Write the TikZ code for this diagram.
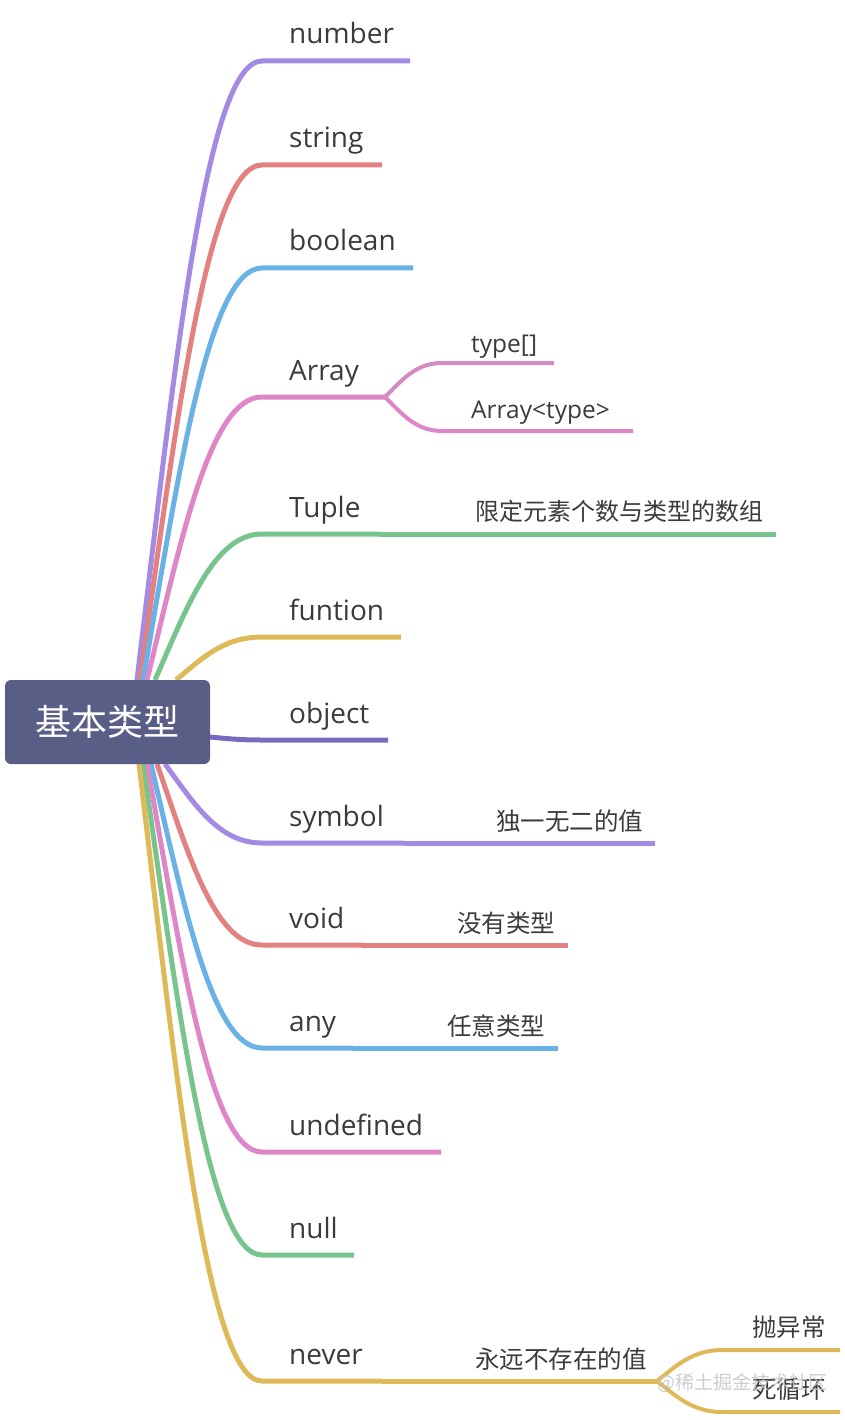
\documentclass[tikz,border=0pt]{standalone}
\usepackage{fontspec}
\setmainfont{Open Sans}
\newfontfamily\cjk{Noto Sans CJK SC}
\usetikzlibrary{calc}
\definecolor{cPurple}{HTML}{A38BE3}
\definecolor{cRed}{HTML}{E38181}
\definecolor{cBlue}{HTML}{6AB2E6}
\definecolor{cPink}{HTML}{DF86C9}
\definecolor{cPinkB}{HTML}{D48CC0}
\definecolor{cGreen}{HTML}{78C48C}
\definecolor{cGold}{HTML}{DFB857}
\definecolor{cObj}{HTML}{7B68BF}
\definecolor{rootc}{HTML}{595E87}
\definecolor{textc}{HTML}{3B3B3B}
\definecolor{wmc}{HTML}{C4C4C4}
\begin{document}
\begin{tikzpicture}[x=1pt,y=-1pt,
  branch/.style={line width=5pt},
  subbranch/.style={line width=4pt},
  lab/.style={anchor=base west, inner sep=0pt, text=textc, font=\fontsize{28}{31}\selectfont},
  smalllab/.style={anchor=base west, inner sep=0pt, text=textc, font=\fontsize{24.5}{27}\selectfont},
  sublab/.style={anchor=base west, inner sep=0pt, text=textc, font=\cjk\fontsize{24.5}{28}\selectfont},
  tuplelab/.style={anchor=base west, inner sep=0pt, text=textc, font=\cjk\fontsize{24}{28}\selectfont},
]
\useasboundingbox (0,0) rectangle (844,1420);

\foreach \n/\t/\y/\ex/\c/\sx/\sy in {
  number/number/61/410/cPurple/137/680,
  string/string/165/382/cRed/140/680,
  boolean/boolean/268/413/cBlue/143/680,
  array/Array/397/385/cPink/147/680,
  tuple/Tuple/534/380/cGreen/155/680,
  funtion/funtion/637/401/cGold/176/680,
  object/object/740/388/cObj/210/737,
  symbol/symbol/843/404/cPurple/165/764,
  void/void/945/362/cRed/157/764,
  any/any/1048/353/cBlue/151/764,
  undefined/undefined/1152/441/cPink/147/764,
  null/null/1255/354/cGreen/143/764,
  never/never/1381/382/cGold/139/764}
{
  \pgfmathsetmacro\ax{\sx+0.3*(262-\sx)}
  \pgfmathsetmacro\ay{\sy+0.5*(\y-\sy)}
  \pgfmathsetmacro\bx{\sx+0.55*(262-\sx)}
  \coordinate (s-\n) at (\sx,\sy);
  \coordinate (b-\n) at (262,\y);
  \coordinate (e-\n) at (\ex,\y);
  \draw[branch,draw=\c] (s-\n) .. controls (\ax,\ay) and (\bx,\y) .. (b-\n) -- (e-\n);
  \node[lab] (l-\n) at (289,\y-17) {\t};
}

% Array children
\coordinate (e-type1) at (554,363);
\coordinate (e-type2) at (633,431);
\draw[subbranch,draw=cPinkB] (e-array) .. controls (402,380) and (416,363) .. (442,363) -- (e-type1);
\draw[subbranch,draw=cPink] (e-array) .. controls (402,414) and (416,431) .. (442,431) -- (e-type2);
\node[smalllab] (l-type1) at (471,352) {type[]};
\node[smalllab] (l-type2) at (471,418) {Array<type>};

% Tuple child
\coordinate (e-tuple2) at (776,534);
\draw[branch,draw=cGreen] (e-tuple) -- (e-tuple2);
\node[tuplelab] (l-tuple2) at (475,520) {限定元素个数与类型的数组};

% symbol child
\coordinate (e-symbol2) at (655,843);
\draw[branch,draw=cPurple] (e-symbol) -- (e-symbol2);
\node[sublab] (l-symbol2) at (496,830) {独一无二的值};

% void child
\coordinate (e-void2) at (568,945);
\draw[branch,draw=cRed] (e-void) -- (e-void2);
\node[sublab] (l-void2) at (457,932) {没有类型};

% any child
\coordinate (e-any2) at (558,1048);
\draw[branch,draw=cBlue] (e-any) -- (e-any2);
\node[sublab] (l-any2) at (447,1035) {任意类型};

% never child
\coordinate (e-never2) at (657,1381);
\draw[branch,draw=cGold] (e-never) -- (e-never2);
\node[sublab] (l-never2) at (475,1368) {永远不存在的值};
\coordinate (e-throw) at (840,1350);
\coordinate (e-loop) at (840,1412);
\draw[subbranch,draw=cGold] (e-never2) .. controls (676.5,1365.5) and (692.75,1350) .. (722,1350) -- (e-throw);
\draw[subbranch,draw=cGold] (e-never2) .. controls (676.5,1396.5) and (692.75,1412) .. (722,1412) -- (e-loop);
\node[sublab] (l-throw) at (752,1336) {抛异常};
\node[sublab] (l-loop) at (752,1398) {死循环};

% root
\node[fill=rootc, rounded corners=6pt, minimum width=205pt, minimum height=84pt,
      inner sep=0pt, text=white, font=\cjk\fontsize{36}{40}\selectfont] (root) at (107.5,722) {基本类型};

% watermark
\node[anchor=west, inner sep=0pt, text=wmc, opacity=0.85, font=\cjk\fontsize{19}{22}\selectfont] (wm) at (657,1383) {@稀土掘金技术社区};
\end{tikzpicture}
\end{document}
